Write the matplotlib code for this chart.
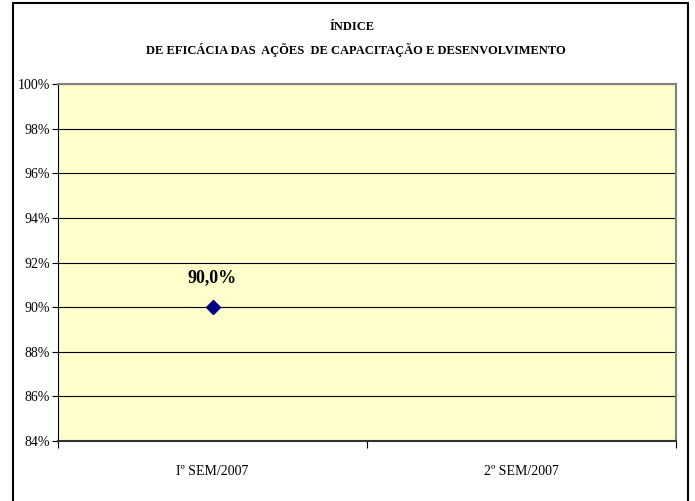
import matplotlib
matplotlib.use('Agg')
import matplotlib.pyplot as plt
from matplotlib.patches import Rectangle
from matplotlib.ticker import FuncFormatter

categorias = ['Iº SEM/2007', '2º SEM/2007']
valores = [90.0, None]
rotulos = ['90,0%', '']

plt.rcParams['font.family'] = ['Liberation Serif', 'DejaVu Serif']

fig = plt.figure(figsize=(6.95, 5.01), dpi=100)
fig.patches.append(Rectangle((13 / 695, -0.05), (688 - 13) / 695, 1.05 - 3 / 501,
                             transform=fig.transFigure, fill=False,
                             edgecolor='black', linewidth=1.5))

ax = fig.add_axes([58 / 695, 1 - 441 / 501, (676 - 58) / 695, (441 - 84) / 501])
ax.set_facecolor('#FFFFCC')

xs = [i for i, v in enumerate(valores) if v is not None]
ys = [v for v in valores if v is not None]
ax.plot(xs, ys, linestyle='none', marker='D', markersize=7, color='#000080')
for x, y, r in zip(xs, ys, rotulos):
    ax.annotate(r, (x, y), xytext=(0, 15), textcoords='offset points',
                ha='center', va='bottom', fontsize=13, fontweight='bold')

ax.set_xlim(-0.5, 1.5)
ax.set_ylim(84, 100)
ax.set_yticks(range(84, 101, 2))
ax.yaxis.set_major_formatter(FuncFormatter(lambda v, p: '%d%%' % v))
ax.set_xticks([-0.5, 0.5, 1.5])
ax.set_xticklabels([])
ax.set_xticks([0, 1], minor=True)
ax.set_xticklabels(categorias, minor=True)
ax.tick_params(axis='x', which='minor', length=0, pad=17, labelsize=10)
ax.tick_params(axis='x', which='major', length=5, direction='out')
ax.tick_params(axis='y', length=4, pad=1.5, labelsize=10)
ax.grid(axis='y', color='black', linewidth=0.8)
ax.set_axisbelow(True)

for s in ['top', 'right']:
    ax.spines[s].set_color('#808080')
    ax.spines[s].set_linewidth(1.5)
ax.spines['left'].set_color('black')
ax.spines['bottom'].set_color('#333333')
ax.spines['bottom'].set_linewidth(1.5)

fig.text(352 / 695, 1 - 27 / 501, 'ÍNDICE', ha='center', va='center',
         fontsize=9, fontweight='bold')
fig.text(356 / 695, 1 - 50 / 501, 'DE EFICÁCIA DAS  AÇÕES  DE CAPACITAÇÃO E DESENVOLVIMENTO',
         ha='center', va='center', fontsize=9, fontweight='bold')

fig.savefig('out.png', dpi=100)
